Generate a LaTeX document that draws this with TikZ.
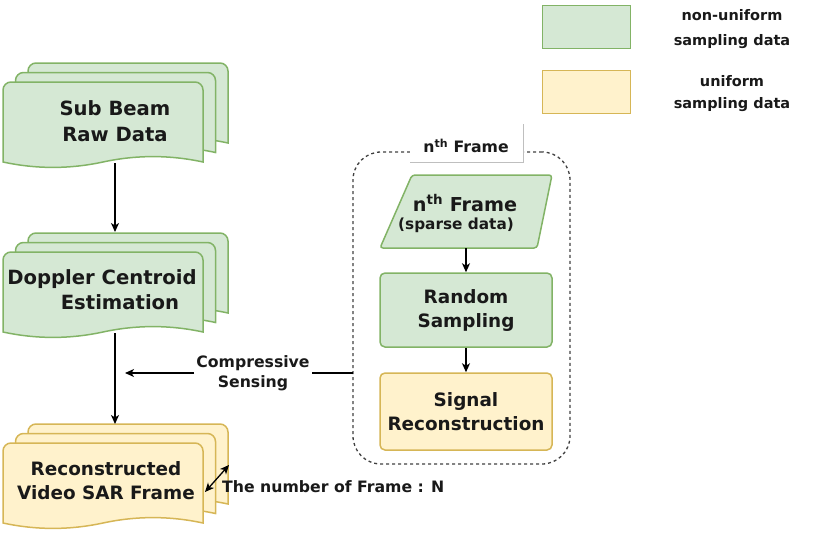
\documentclass[tikz,border=0pt]{standalone}
\usepackage{fontspec}
\setmainfont{DejaVu Sans}
\usetikzlibrary{arrows.meta}
\definecolor{gfill}{HTML}{D5E8D4}
\definecolor{gline}{HTML}{82B366}
\definecolor{yfill}{HTML}{FFF2CC}
\definecolor{yline}{HTML}{D6B656}
\newcommand{\docshape}[5]{%
  \pgfmathsetmacro{\dxa}{#1}\pgfmathsetmacro{\dya}{#2}%
  \pgfmathsetmacro{\dxb}{#3}\pgfmathsetmacro{\dye}{#4}%
  \pgfmathsetmacro{\dw}{\dxb-\dxa}%
  \pgfmathsetmacro{\dxm}{(\dxa+\dxb)/2}%
  \pgfmathsetmacro{\ca}{\dxb-\dw/6}\pgfmathsetmacro{\cb}{\dxm+\dw/6}%
  \pgfmathsetmacro{\cc}{\dxm-\dw/6}\pgfmathsetmacro{\cd}{\dxa+\dw/6}%
  \pgfmathsetmacro{\yu}{\dye-7.2}\pgfmathsetmacro{\yd}{\dye+7.2}%
  \filldraw[#5] (\dxa,\dye) -- (\dxa,\dya+8) .. controls (\dxa,\dya+3.6) and (\dxa+3.6,\dya) .. (\dxa+8,\dya)
    -- (\dxb-8,\dya) .. controls (\dxb-3.6,\dya) and (\dxb,\dya+3.6) .. (\dxb,\dya+8)
    -- (\dxb,\dye) .. controls (\ca,\yu) and (\cb,\yu) .. (\dxm,\dye)
    .. controls (\cc,\yd) and (\cd,\yd) .. (\dxa,\dye) -- cycle;
}
\tikzset{
  gshape/.style={fill=gfill, draw=gline, line width=1.5pt},
  yshape/.style={fill=yfill, draw=yline, line width=1.5pt},
  bigtxt/.style={font=\bfseries\fontsize{19.6}{26}\selectfont, align=center, text=black!90},
  boxtxt/.style={font=\bfseries\fontsize{18.4}{24}\selectfont, align=center, text=black!90},
  midtxt/.style={font=\bfseries\fontsize{15.7}{20}\selectfont, align=center, text=black!90},
  legtxt/.style={font=\bfseries\fontsize{14.5}{25}\selectfont, align=center, text=black!90},
  tip/.tip={Stealth[length=9pt,width=8pt,inset=2.5pt]},
  arr/.style={line width=1.3pt, -tip},
  darr/.style={line width=1.3pt, tip-tip},
}
\begin{document}
\begin{tikzpicture}[x=1pt,y=-1pt]
\useasboundingbox (0,0) rectangle (827,541);
% legend
\node[gshape, line width=1pt, minimum width=88pt, minimum height=43pt, inner sep=0] (leg1) at (586,26.5) {};
\node[yshape, line width=1pt, minimum width=88pt, minimum height=43pt, inner sep=0] (leg2) at (586,91.5) {};
\node[legtxt] (leg1t) at (732,29.5) {non-uniform\\sampling data};
\node[legtxt, font=\bfseries\fontsize{14.5}{22}\selectfont] (leg2t) at (732,94) {uniform\\sampling data};
% Sub Beam stack
\foreach \k in {2,1,0} {\docshape{3+12.5*\k}{82-9.5*\k}{203+12.5*\k}{162-9.5*\k}{gshape}}
\node[bigtxt] (sub) at (115,121.5) {Sub Beam\\Raw Data};
% Doppler stack
\foreach \k in {2,1,0} {\docshape{3+12.5*\k}{252-9.5*\k}{203+12.5*\k}{332-9.5*\k}{gshape}}
\node[bigtxt, font=\bfseries\fontsize{19.6}{25}\selectfont] (dop) at (102,289.5) {Doppler Centroid\\\hspace*{36pt}Estimation};
% Reconstructed stack
\foreach \k in {2,1,0} {\docshape{3+12.5*\k}{443-9.5*\k}{203+12.5*\k}{523-9.5*\k}{yshape}}
\node[boxtxt] (rec) at (106,481) {Reconstructed\\Video SAR Frame};
% vertical arrows
\coordinate (subbot) at (115,163);
\coordinate (doptop) at (115,232);
\coordinate (dopbot) at (115,333);
\coordinate (rectop) at (115,424);
\draw[arr] (subbot) -- (doptop);
\draw[arr] (dopbot) -- (rectop);
% number of frames
\coordinate (na) at (205,492);
\coordinate (nb) at (229,465);
\draw[darr] (na) -- (nb);
\node[midtxt, anchor=west, inner sep=0] (nlab) at (222,487) {The number of Frame : N};
% dashed frame
\node[draw=black!75, dashed, dash pattern=on 3pt off 3pt, line width=1.3pt, rounded corners=28pt,
      minimum width=217pt, minimum height=312pt, inner sep=0] (frame) at (461.5,308) {};
\node[fill=white, minimum width=113pt, minimum height=38pt, inner sep=0] (lbl) at (466.5,143.5) {};
\draw[black!25, line width=1pt] (lbl.north east) -- (lbl.south east) -- (lbl.south west);
\node[midtxt] (lblt) at (466,146) {n\textsuperscript{th} Frame};
% parallelogram
\filldraw[gshape, rounded corners=3pt] (412,175) -- (552,175) -- (537,248) -- (380,248) -- cycle;
\node[boxtxt, font=\bfseries\fontsize{19.2}{24}\selectfont] (part) at (465,203) {n\textsuperscript{th} Frame};
\node[midtxt, font=\bfseries\fontsize{15.3}{18}\selectfont] (parsub) at (456,225) {(sparse data)};
\coordinate (parbot) at (466,248);
\node[gshape, rounded corners=5pt, minimum width=172pt, minimum height=74pt, boxtxt] (rs) at (466,310) {Random\\Sampling};
\node[yshape, rounded corners=5pt, minimum width=172pt, minimum height=77pt, boxtxt] (sig) at (466,411.5) {Signal\\Reconstruction};
\draw[arr] (parbot) -- (rs.north);
\draw[arr] (rs.south) -- (sig.north);
% compressive sensing
\coordinate (csstart) at (353,373);
\coordinate (csend) at (125,373);
\node[midtxt, inner sep=2pt] (cs) at (253,373) {Compressive\\Sensing};
\draw[line width=1.3pt] (csstart) -- (cs.east |- csstart);
\draw[arr] (cs.west |- csstart) -- (csend);
\end{tikzpicture}
\end{document}
